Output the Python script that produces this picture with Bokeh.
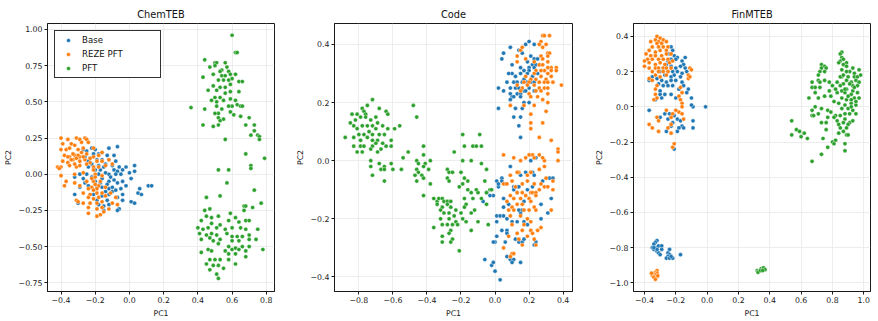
from bokeh.plotting import figure
from bokeh.layouts import row
from bokeh.models import FixedTicker, Range1d
from bokeh.embed import file_html
from bokeh.resources import INLINE

FONT = "DejaVu Sans"
SERIES = ["Base", "REZE PFT", "PFT"]
COLORS = ["#1f77b4", "#ff7f0e", "#2ca02c"]

# ---------------- ChemTEB: (PC1, PC2) per embedding ----------------
chem_base = [
    (-0.07, 0.19), (-0.12, 0.18), (-0.22, 0.18), (-0.20, 0.17), (-0.25, 0.16), (-0.27, 0.17),
    (-0.16, 0.15), (-0.18, 0.14), (-0.21, 0.14), (-0.13, 0.13), (-0.09, 0.13),
    (-0.26, 0.12), (-0.23, 0.11), (-0.19, 0.10), (-0.16, 0.10), (-0.12, 0.10), (-0.08, 0.09),
    (-0.14, 0.07), (-0.10, 0.06), (-0.06, 0.05), (-0.02, 0.05), (0.03, 0.06),
    (-0.24, 0.05), (-0.20, 0.03), (-0.17, 0.03), (-0.09, 0.03), (-0.07, 0.02), (-0.04, 0.03),
    (-0.29, 0.00), (-0.25, 0.00), (-0.18, 0.00), (-0.12, 0.00), (-0.08, 0.00), (-0.05, 0.00),
    (0.00, 0.01), (0.03, 0.02),
    (-0.32, -0.02), (-0.27, -0.03), (-0.22, -0.02), (-0.16, -0.03), (-0.12, -0.05), (-0.07, -0.06),
    (-0.04, -0.05), (0.01, -0.03),
    (-0.29, -0.09), (-0.24, -0.08), (-0.19, -0.09), (-0.16, -0.09), (-0.12, -0.10), (-0.10, -0.09),
    (-0.05, -0.10), (-0.02, -0.08), (0.06, -0.10), (0.11, -0.08), (0.13, -0.08),
    (-0.32, -0.14), (-0.21, -0.14), (-0.16, -0.15), (-0.12, -0.14), (-0.07, -0.16), (-0.04, -0.14),
    (0.05, -0.13), (0.07, -0.14),
    (-0.30, -0.20), (-0.19, -0.18), (-0.13, -0.18), (-0.04, -0.18), (0.01, -0.19), (0.03, -0.20),
    (-0.18, -0.21), (-0.15, -0.22), (-0.12, -0.21), (-0.06, -0.24), (-0.07, -0.25), (-0.15, -0.25),
    (-0.24, 0.09), (-0.22, 0.07), (-0.18, 0.06), (-0.15, 0.05), (-0.14, 0.01), (-0.11, -0.02),
    (-0.09, -0.04), (-0.13, -0.07), (-0.17, -0.06), (-0.20, -0.05), (-0.26, -0.06), (-0.10, -0.12),
    (-0.08, -0.11), (-0.14, -0.12),
]
chem_reze = [
    (-0.40, 0.25), (-0.36, 0.24), (-0.31, 0.25), (-0.29, 0.24), (-0.26, 0.25), (-0.25, 0.24),
    (-0.39, 0.21), (-0.34, 0.21), (-0.32, 0.20), (-0.28, 0.22), (-0.24, 0.22),
    (-0.40, 0.17), (-0.37, 0.17), (-0.35, 0.18), (-0.30, 0.17), (-0.27, 0.18), (-0.21, 0.18),
    (-0.38, 0.13), (-0.35, 0.12), (-0.32, 0.13), (-0.29, 0.12), (-0.25, 0.14), (-0.21, 0.12),
    (-0.18, 0.13), (-0.16, 0.15),
    (-0.39, 0.09), (-0.36, 0.08), (-0.33, 0.10), (-0.29, 0.09), (-0.26, 0.10), (-0.23, 0.08),
    (-0.19, 0.09), (-0.16, 0.09), (-0.12, 0.10), (-0.10, 0.07),
    (-0.42, 0.05), (-0.40, 0.05), (-0.35, 0.06), (-0.31, 0.05), (-0.21, 0.05), (-0.18, 0.05),
    (-0.14, 0.06), (-0.41, 0.04),
    (-0.40, -0.01), (-0.32, 0.00), (-0.27, 0.01), (-0.20, 0.00), (-0.16, -0.01),
    (-0.37, -0.05), (-0.32, -0.06), (-0.25, -0.05), (-0.21, -0.05), (-0.17, -0.05),
    (-0.38, -0.08), (-0.29, -0.08), (-0.22, -0.09), (-0.18, -0.08), (-0.14, -0.09),
    (-0.27, -0.13), (-0.23, -0.14), (-0.19, -0.13), (-0.16, -0.13), (-0.11, -0.13),
    (-0.24, -0.16), (-0.21, -0.17), (-0.18, -0.16), (-0.14, -0.15), (-0.08, -0.16),
    (-0.31, -0.18), (-0.27, -0.20), (-0.23, -0.20), (-0.19, -0.20), (-0.16, -0.19), (-0.10, -0.20),
    (-0.24, -0.23), (-0.19, -0.24), (-0.16, -0.23), (-0.12, -0.24), (-0.07, -0.21),
    (-0.24, -0.27), (-0.19, -0.29), (-0.17, -0.28), (-0.15, -0.26), (-0.30, -0.19),
    (-0.33, 0.14), (-0.30, 0.13), (-0.28, 0.15), (-0.36, 0.12), (-0.34, 0.10), (-0.31, 0.11),
    (-0.27, 0.12), (-0.25, 0.07), (-0.23, 0.11), (-0.32, 0.07), (-0.29, 0.06),
    (-0.21, 0.03), (-0.20, -0.02), (-0.22, -0.03), (-0.19, -0.10), (-0.21, -0.11), (-0.24, -0.10),
    (-0.20, -0.07),
]
chem_pft = [
    (0.60, 0.96), (0.62, 0.84), (0.63, 0.84), (0.44, 0.79), (0.50, 0.77), (0.51, 0.77), (0.56, 0.77),
    (0.47, 0.74), (0.50, 0.75), (0.57, 0.74), (0.54, 0.72), (0.58, 0.71), (0.53, 0.71),
    (0.43, 0.67), (0.49, 0.69), (0.54, 0.68), (0.56, 0.68), (0.59, 0.69), (0.62, 0.69),
    (0.60, 0.66), (0.52, 0.65), (0.55, 0.65), (0.58, 0.65), (0.64, 0.64), (0.66, 0.64),
    (0.59, 0.62), (0.49, 0.61), (0.53, 0.60), (0.56, 0.60), (0.46, 0.58), (0.51, 0.58),
    (0.59, 0.57), (0.56, 0.56), (0.64, 0.57), (0.50, 0.53), (0.53, 0.53), (0.48, 0.51),
    (0.51, 0.50), (0.55, 0.51), (0.59, 0.52), (0.62, 0.51), (0.60, 0.47), (0.58, 0.47),
    (0.63, 0.48), (0.65, 0.47), (0.66, 0.47), (0.36, 0.46), (0.51, 0.47), (0.44, 0.45),
    (0.54, 0.45), (0.52, 0.42), (0.50, 0.42), (0.59, 0.43), (0.61, 0.41), (0.52, 0.39),
    (0.55, 0.38), (0.65, 0.40), (0.70, 0.39), (0.53, 0.37), (0.43, 0.34), (0.49, 0.33),
    (0.52, 0.34), (0.68, 0.34), (0.73, 0.34), (0.73, 0.30), (0.71, 0.27), (0.75, 0.27),
    (0.76, 0.26), (0.76, 0.24), (0.56, 0.24), (0.68, 0.14), (0.79, 0.11), (0.71, 0.06),
    (0.71, 0.04), (0.52, 0.03), (0.58, 0.03), (0.57, -0.06), (0.73, -0.11), (0.45, -0.16),
    (0.53, -0.15), (0.77, -0.20),
    (0.67, -0.22), (0.68, -0.22), (0.72, -0.23), (0.44, -0.25), (0.47, -0.24), (0.59, -0.27),
    (0.67, -0.25), (0.42, -0.32), (0.45, -0.29), (0.48, -0.30), (0.48, -0.34), (0.52, -0.29),
    (0.58, -0.32), (0.62, -0.30), (0.64, -0.33), (0.68, -0.32), (0.70, -0.32), (0.40, -0.37),
    (0.43, -0.38), (0.46, -0.37), (0.51, -0.37), (0.53, -0.35), (0.56, -0.38), (0.60, -0.37),
    (0.65, -0.37), (0.68, -0.38), (0.75, -0.38), (0.41, -0.41), (0.45, -0.42), (0.48, -0.41),
    (0.51, -0.42), (0.57, -0.41), (0.60, -0.43), (0.63, -0.43), (0.66, -0.43), (0.70, -0.42),
    (0.42, -0.45), (0.47, -0.44), (0.49, -0.46), (0.53, -0.45), (0.60, -0.46), (0.64, -0.46),
    (0.70, -0.45), (0.74, -0.45), (0.52, -0.48), (0.58, -0.50), (0.60, -0.52), (0.62, -0.51),
    (0.64, -0.52), (0.66, -0.50), (0.68, -0.53), (0.70, -0.50), (0.78, -0.52), (0.46, -0.52),
    (0.48, -0.53), (0.42, -0.54), (0.56, -0.53), (0.58, -0.55), (0.62, -0.55), (0.68, -0.57),
    (0.47, -0.59), (0.50, -0.59), (0.53, -0.59), (0.58, -0.59), (0.45, -0.62), (0.49, -0.63),
    (0.52, -0.63), (0.62, -0.62), (0.47, -0.66), (0.55, -0.65), (0.51, -0.69), (0.52, -0.72),
]

# ---------------- Code ----------------
code_base = [
    (0.18, 0.40), (0.20, 0.41), (0.05, 0.37), (0.04, 0.35), (0.09, 0.39), (0.14, 0.38), (0.16, 0.37),
    (0.23, 0.40), (0.21, 0.36), (0.23, 0.35), (0.19, 0.34), (0.25, 0.35),
    (0.20, 0.32), (0.22, 0.33), (0.24, 0.33), (0.26, 0.33), (0.17, 0.31), (0.20, 0.31), (0.23, 0.32),
    (0.15, 0.32), (0.10, 0.33), (0.10, 0.30),
    (0.08, 0.30), (0.12, 0.29), (0.15, 0.30), (0.19, 0.30), (0.22, 0.29), (0.25, 0.30), (0.17, 0.28),
    (0.07, 0.27), (0.11, 0.27), (0.13, 0.27), (0.16, 0.27), (0.19, 0.27), (0.21, 0.27), (0.23, 0.27),
    (0.02, 0.25), (0.05, 0.24), (0.09, 0.25), (0.12, 0.25), (0.14, 0.25), (0.17, 0.24), (0.20, 0.25),
    (0.23, 0.24), (0.09, 0.23), (0.10, 0.22), (0.13, 0.23), (0.15, 0.23), (0.18, 0.24), (0.09, 0.21),
    (0.11, 0.22), (0.15, 0.22), (0.17, 0.20), (0.20, 0.20), (0.02, 0.18), (0.12, 0.18), (0.16, 0.18),
    (0.11, 0.15), (0.15, 0.15), (0.14, 0.12), (0.15, 0.08),
    (0.21, 0.00), (0.24, 0.01), (0.22, -0.04), (0.23, -0.05), (0.09, -0.02), (0.18, -0.04),
    (0.15, -0.05), (0.32, -0.06), (0.34, -0.06), (0.28, -0.07), (0.01, -0.07), (0.04, -0.06),
    (0.06, -0.08), (0.02, -0.09), (-0.05, -0.11), (-0.01, -0.12),
    (0.11, -0.09), (0.12, -0.09), (0.13, -0.09), (0.14, -0.09), (0.11, -0.10), (0.13, -0.11),
    (0.19, -0.10), (0.22, -0.09),
    (-0.07, -0.14), (0.05, -0.13), (0.05, -0.16), (0.08, -0.15), (0.17, -0.14), (0.27, -0.15),
    (0.33, -0.13), (0.31, -0.18),
    (0.01, -0.19), (0.03, -0.19), (0.05, -0.19), (0.01, -0.21), (0.07, -0.20), (0.10, -0.21),
    (0.13, -0.21), (0.15, -0.18), (0.14, -0.17), (0.16, -0.17), (0.27, -0.20), (0.17, -0.21),
    (0.19, -0.22),
    (0.04, -0.24), (0.07, -0.24), (0.07, -0.25), (0.01, -0.26), (0.00, -0.28), (0.06, -0.28),
    (0.12, -0.27), (0.14, -0.28), (0.16, -0.28), (0.17, -0.27), (0.24, -0.28), (0.23, -0.29),
    (-0.01, -0.28),
    (0.07, -0.33), (0.09, -0.34), (0.11, -0.34), (0.10, -0.35), (0.15, -0.35), (-0.06, -0.34),
    (-0.02, -0.36), (-0.01, -0.35), (0.00, -0.38), (0.03, -0.41),
    (0.02, -0.08), (0.04, -0.07), (-0.03, -0.12),
]
code_reze = [
    (0.28, 0.43), (0.29, 0.43), (0.32, 0.43), (0.27, 0.41), (0.30, 0.40),
    (0.15, 0.38), (0.16, 0.39), (0.26, 0.40), (0.28, 0.39),
    (0.13, 0.36), (0.31, 0.37), (0.32, 0.37), (0.31, 0.36), (0.27, 0.36),
    (0.13, 0.34), (0.18, 0.35), (0.28, 0.35), (0.31, 0.34), (0.26, 0.33), (0.28, 0.33), (0.23, 0.34),
    (0.33, 0.32), (0.36, 0.32), (0.31, 0.32), (0.29, 0.31), (0.27, 0.31), (0.24, 0.31),
    (0.36, 0.31), (0.33, 0.31), (0.31, 0.30), (0.27, 0.29), (0.23, 0.30), (0.21, 0.28), (0.18, 0.29),
    (0.30, 0.28), (0.33, 0.29),
    (0.20, 0.27), (0.24, 0.28), (0.26, 0.27), (0.29, 0.27), (0.31, 0.27), (0.39, 0.26), (0.34, 0.27),
    (0.17, 0.27),
    (0.19, 0.26), (0.23, 0.26), (0.26, 0.25), (0.29, 0.25), (0.31, 0.25), (0.24, 0.24), (0.27, 0.24),
    (0.31, 0.23), (0.16, 0.25), (0.13, 0.26),
    (0.15, 0.24), (0.20, 0.23), (0.21, 0.22), (0.25, 0.22), (0.28, 0.21), (0.31, 0.20), (0.09, 0.19),
    (0.17, 0.19), (0.23, 0.19), (0.21, 0.16), (0.30, 0.17), (0.21, 0.13), (0.28, 0.13), (0.21, 0.11),
    (0.26, 0.08), (0.33, 0.07),
    (0.37, 0.04), (0.37, 0.03), (0.22, 0.02), (0.23, 0.01), (0.26, 0.02), (0.29, 0.00), (0.28, 0.01),
    (0.37, 0.00), (0.05, 0.02), (0.11, 0.01), (0.15, 0.00), (0.18, 0.01), (0.20, 0.02),
    (0.29, -0.02), (0.26, -0.03), (0.30, -0.06), (0.21, -0.04), (0.19, -0.05), (0.14, -0.04),
    (0.13, -0.04), (0.10, -0.07), (0.09, -0.05), (0.34, -0.07),
    (0.05, -0.08), (0.07, -0.08), (0.12, -0.09), (0.16, -0.08), (0.19, -0.07), (0.23, -0.08),
    (0.27, -0.08), (0.29, -0.09), (0.31, -0.09), (0.34, -0.10), (0.26, -0.10),
    (0.09, -0.12), (0.13, -0.11), (0.16, -0.11), (0.18, -0.12), (0.21, -0.11), (0.22, -0.11),
    (0.24, -0.11), (0.11, -0.13), (0.15, -0.13), (0.20, -0.13), (0.24, -0.12),
    (0.07, -0.14), (0.10, -0.16), (0.13, -0.15), (0.16, -0.15), (0.21, -0.14), (0.23, -0.16),
    (0.08, -0.17), (0.11, -0.17), (0.17, -0.17), (0.20, -0.17), (0.24, -0.17), (0.33, -0.17),
    (0.09, -0.19), (0.15, -0.19), (0.21, -0.21), (0.19, -0.20), (0.10, -0.22), (0.17, -0.22),
    (0.27, -0.23), (0.25, -0.24), (0.21, -0.24), (0.13, -0.25), (0.16, -0.24),
    (0.08, -0.26), (0.14, -0.27), (0.16, -0.29), (0.19, -0.26), (0.23, -0.27), (0.05, -0.30),
    (0.10, -0.32), (0.09, -0.33), (0.11, -0.32), (0.22, -0.25), (0.24, -0.29),
]
code_pft = [
    (-0.72, 0.21), (-0.75, 0.19), (-0.78, 0.18), (-0.84, 0.16), (-0.81, 0.16), (-0.77, 0.17),
    (-0.76, 0.16), (-0.68, 0.18), (-0.64, 0.17), (-0.63, 0.16),
    (-0.85, 0.13), (-0.82, 0.14), (-0.79, 0.15), (-0.76, 0.15), (-0.73, 0.14), (-0.70, 0.15),
    (-0.69, 0.13), (-0.83, 0.12), (-0.81, 0.11), (-0.78, 0.12), (-0.75, 0.12), (-0.72, 0.12),
    (-0.70, 0.11), (-0.66, 0.12), (-0.63, 0.11), (-0.59, 0.11), (-0.56, 0.12),
    (-0.80, 0.09), (-0.77, 0.09), (-0.74, 0.10), (-0.72, 0.09), (-0.68, 0.09), (-0.65, 0.09),
    (-0.88, 0.08), (-0.83, 0.08), (-0.79, 0.07), (-0.75, 0.08), (-0.72, 0.07), (-0.69, 0.07),
    (-0.61, 0.07), (-0.83, 0.05), (-0.79, 0.05), (-0.77, 0.05), (-0.72, 0.05), (-0.70, 0.06),
    (-0.66, 0.06), (-0.64, 0.05), (-0.61, 0.05), (-0.81, 0.03), (-0.78, 0.03), (-0.73, 0.04),
    (-0.69, 0.03), (-0.67, 0.04),
    (-0.73, 0.00), (-0.68, -0.01), (-0.73, -0.02), (-0.65, -0.02), (-0.67, -0.03), (-0.61, -0.01),
    (-0.60, -0.03), (-0.72, -0.05), (-0.65, -0.03), (-0.65, -0.07),
    (-0.48, 0.19), (-0.46, 0.15), (-0.51, 0.03), (-0.54, 0.01), (-0.55, -0.03),
    (-0.46, 0.00), (-0.45, -0.01), (-0.46, -0.03), (-0.42, 0.02), (-0.42, 0.05), (-0.41, -0.01),
    (-0.42, -0.02), (-0.38, 0.00), (-0.39, -0.03),
    (-0.47, -0.05), (-0.45, -0.04), (-0.43, -0.05), (-0.42, -0.06), (-0.46, -0.07), (-0.38, -0.08),
    (-0.42, -0.12),
    (-0.28, -0.03), (-0.27, -0.04), (-0.25, -0.04), (-0.28, -0.06), (-0.27, -0.07), (-0.36, -0.13),
    (-0.34, -0.14), (-0.33, -0.13), (-0.31, -0.13), (-0.30, -0.14), (-0.28, -0.14),
    (-0.34, -0.15), (-0.31, -0.16), (-0.28, -0.15), (-0.26, -0.14), (-0.32, -0.17), (-0.30, -0.18),
    (-0.27, -0.18), (-0.32, -0.20), (-0.27, -0.20), (-0.24, -0.19), (-0.26, -0.16), (-0.23, -0.17),
    (-0.36, -0.23), (-0.31, -0.22), (-0.28, -0.22), (-0.25, -0.22), (-0.23, -0.21), (-0.22, -0.22),
    (-0.26, -0.24), (-0.31, -0.26), (-0.31, -0.28), (-0.27, -0.25), (-0.25, -0.27), (-0.26, -0.28),
    (-0.21, -0.31),
    (-0.19, 0.09), (-0.09, 0.09), (-0.18, 0.05), (-0.13, 0.05), (-0.11, 0.05), (-0.08, 0.05),
    (-0.24, 0.03), (-0.19, 0.00), (-0.14, 0.00), (-0.08, -0.01), (-0.05, -0.03),
    (-0.20, -0.04), (-0.18, -0.06), (-0.19, -0.08), (-0.16, -0.07), (-0.21, -0.09), (-0.16, -0.10),
    (-0.14, -0.11), (-0.11, -0.10), (-0.10, -0.11), (-0.06, -0.07), (-0.05, -0.11), (-0.03, -0.10),
    (-0.02, -0.10), (-0.08, -0.13), (-0.05, -0.15), (-0.13, -0.13), (-0.18, -0.13), (-0.17, -0.15),
    (-0.18, -0.16), (-0.12, -0.17), (-0.20, -0.18), (-0.14, -0.18), (-0.10, -0.21), (-0.14, -0.24),
    (-0.17, -0.21), (-0.19, -0.20), (-0.04, -0.22),
]

# ---------------- FinMTEB ----------------
fin_base = [
    (-0.23, 0.34), (-0.22, 0.32), (-0.24, 0.30), (-0.21, 0.29), (-0.19, 0.28), (-0.14, 0.28),
    (-0.20, 0.27), (-0.16, 0.26), (-0.15, 0.24), (-0.23, 0.27), (-0.25, 0.26), (-0.17, 0.23),
    (-0.14, 0.22), (-0.20, 0.22), (-0.23, 0.23), (-0.26, 0.24), (-0.28, 0.22), (-0.30, 0.20),
    (-0.25, 0.20), (-0.22, 0.20), (-0.19, 0.20), (-0.16, 0.19), (-0.13, 0.20), (-0.27, 0.18),
    (-0.23, 0.17), (-0.21, 0.18), (-0.17, 0.17), (-0.29, 0.15), (-0.26, 0.14), (-0.23, 0.15),
    (-0.20, 0.15), (-0.16, 0.14), (-0.37, 0.15), (-0.35, 0.17), (-0.32, 0.16), (-0.31, 0.13),
    (-0.28, 0.12), (-0.25, 0.12), (-0.22, 0.12), (-0.15, 0.12), (-0.12, 0.10), (-0.30, 0.09),
    (-0.27, 0.07), (-0.23, 0.07), (-0.20, 0.05), (-0.18, 0.10), (-0.13, 0.08), (-0.10, 0.05),
    (-0.09, 0.00), (-0.10, 0.01), (-0.37, -0.02), (-0.30, -0.06), (-0.27, -0.04), (-0.24, -0.04),
    (-0.21, -0.05), (-0.25, -0.07), (-0.19, -0.07), (-0.22, -0.09), (-0.17, -0.08), (-0.16, -0.11),
    (-0.15, -0.12), (-0.18, -0.12), (-0.19, -0.14), (-0.23, -0.11), (-0.26, -0.14), (-0.09, -0.08),
    (-0.09, -0.12), (-0.01, 0.00), (-0.21, -0.24), (-0.30, 0.07), (-0.29, 0.05), (-0.33, 0.04),
    (-0.32, -0.76), (-0.33, -0.77), (-0.34, -0.78), (-0.35, -0.80), (-0.33, -0.80), (-0.32, -0.80),
    (-0.31, -0.79), (-0.29, -0.79), (-0.29, -0.81), (-0.34, -0.81), (-0.32, -0.82), (-0.31, -0.83),
    (-0.30, -0.84), (-0.32, -0.81), (-0.24, -0.81), (-0.25, -0.83), (-0.24, -0.84), (-0.25, -0.85),
    (-0.26, -0.86), (-0.24, -0.86), (-0.22, -0.86), (-0.17, -0.84), (-0.23, -0.85), (-0.34, -0.80),
]
fin_reze = [
    (-0.32, 0.40), (-0.30, 0.39), (-0.33, 0.38), (-0.31, 0.37), (-0.28, 0.38), (-0.36, 0.37),
    (-0.32, 0.36), (-0.29, 0.36), (-0.26, 0.37), (-0.35, 0.34), (-0.31, 0.34), (-0.28, 0.34),
    (-0.25, 0.34), (-0.37, 0.32), (-0.33, 0.31), (-0.30, 0.32), (-0.26, 0.32), (-0.39, 0.30),
    (-0.36, 0.29), (-0.33, 0.29), (-0.29, 0.29), (-0.26, 0.30), (-0.23, 0.30), (-0.38, 0.27),
    (-0.35, 0.27), (-0.31, 0.27), (-0.28, 0.27), (-0.25, 0.27), (-0.40, 0.26), (-0.37, 0.25),
    (-0.33, 0.24), (-0.30, 0.25), (-0.27, 0.24), (-0.24, 0.25), (-0.22, 0.26), (-0.40, 0.23),
    (-0.37, 0.22), (-0.33, 0.22), (-0.31, 0.22), (-0.28, 0.22), (-0.26, 0.22), (-0.23, 0.22),
    (-0.35, 0.20), (-0.31, 0.20), (-0.28, 0.20), (-0.25, 0.20), (-0.33, 0.18), (-0.30, 0.17),
    (-0.26, 0.18), (-0.11, 0.22), (-0.10, 0.21), (-0.12, 0.18), (-0.12, 0.16), (-0.11, 0.17),
    (-0.37, 0.16), (-0.35, 0.15), (-0.32, 0.12), (-0.33, 0.10), (-0.33, 0.07), (-0.34, 0.04),
    (-0.32, 0.05), (-0.17, 0.11), (-0.16, 0.08), (-0.18, 0.06), (-0.17, 0.04), (-0.16, 0.02),
    (-0.16, 0.00), (-0.18, -0.03), (-0.16, -0.04), (-0.20, -0.02), (-0.22, -0.04), (-0.26, -0.02),
    (-0.23, -0.06), (-0.15, -0.07), (-0.23, -0.10), (-0.25, -0.12), (-0.32, -0.06), (-0.31, -0.08),
    (-0.37, -0.10), (-0.35, -0.12), (-0.31, -0.14), (-0.23, -0.15), (-0.21, -0.21), (-0.22, -0.23),
    (-0.32, -0.93), (-0.33, -0.94), (-0.32, -0.945), (-0.34, -0.95), (-0.33, -0.955), (-0.35, -0.96),
    (-0.34, -0.965), (-0.32, -0.965), (-0.33, -0.972), (-0.34, -0.968), (-0.33, -0.98),
    (-0.315, -0.96), (-0.355, -0.945),
]
fin_pft = [
    (0.86, 0.31), (0.85, 0.30), (0.86, 0.28), (0.85, 0.26), (0.87, 0.27), (0.89, 0.25), (0.84, 0.25),
    (0.87, 0.24), (0.89, 0.23), (0.73, 0.24), (0.75, 0.23), (0.73, 0.22), (0.76, 0.22), (0.72, 0.20),
    (0.75, 0.20), (0.71, 0.18), (0.93, 0.22), (0.97, 0.21), (0.91, 0.20), (0.94, 0.19), (0.90, 0.17),
    (0.94, 0.17), (0.96, 0.17), (0.98, 0.18), (0.86, 0.17), (0.85, 0.17),
    (0.67, 0.14), (0.71, 0.15), (0.72, 0.14), (0.75, 0.15), (0.67, 0.11), (0.69, 0.11), (0.72, 0.11),
    (0.78, 0.14), (0.89, 0.15), (0.92, 0.14), (0.95, 0.15), (0.97, 0.14), (0.87, 0.13), (0.93, 0.12),
    (0.96, 0.12), (0.78, 0.09), (0.83, 0.08), (0.86, 0.09), (0.89, 0.10), (0.93, 0.09), (0.96, 0.08),
    (0.88, 0.08), (0.92, 0.07), (0.69, 0.08), (0.75, 0.06), (0.79, 0.06), (0.65, 0.05), (0.71, 0.05),
    (0.86, 0.05), (0.89, 0.04), (0.94, 0.05), (0.97, 0.05), (0.81, 0.03), (0.84, 0.02), (0.88, 0.01),
    (0.92, 0.02), (0.95, 0.01), (0.69, 0.00), (0.67, -0.02), (0.73, -0.01), (0.86, -0.01),
    (0.90, -0.01), (0.93, -0.02), (0.67, -0.05), (0.68, -0.05), (0.71, -0.04), (0.77, -0.06),
    (0.82, -0.05), (0.85, -0.05), (0.88, -0.04), (0.95, -0.04), (0.83, -0.08), (0.88, -0.07),
    (0.76, -0.09), (0.73, -0.09), (0.84, -0.10), (0.91, -0.09), (0.90, -0.10), (0.93, -0.08),
    (0.54, -0.08), (0.57, -0.13), (0.59, -0.14), (0.62, -0.15), (0.54, -0.16), (0.60, -0.17),
    (0.64, -0.18), (0.76, -0.13), (0.84, -0.15), (0.87, -0.14), (0.89, -0.16), (0.90, -0.16),
    (0.74, -0.18), (0.80, -0.20), (0.82, -0.19), (0.81, -0.21), (0.88, -0.21), (0.77, -0.23),
    (0.88, -0.25), (0.73, -0.27), (0.67, -0.31),
    (0.90, 0.06), (0.92, 0.04), (0.88, 0.10), (0.94, 0.11), (0.91, 0.13), (0.87, 0.18), (0.89, 0.20),
    (0.86, 0.21), (0.95, 0.03), (0.85, 0.12), (0.83, 0.14), (0.82, 0.10), (0.80, 0.12), (0.77, -0.02),
    (0.79, -0.03), (0.81, -0.06), (0.85, -0.12), (0.87, -0.09), (0.89, -0.12), (0.91, -0.04),
    (0.92, 0.00),
    (0.32, -0.93), (0.33, -0.935), (0.345, -0.92), (0.36, -0.915), (0.37, -0.925), (0.325, -0.94),
    (0.34, -0.93), (0.355, -0.93),
]

# ---------------- axis ticks and their labels ----------------
chem_xticks = [-0.4, -0.2, 0.0, 0.2, 0.4, 0.6, 0.8]
chem_xlabels = ["\u22120.4", "\u22120.2", "0.0", "0.2", "0.4", "0.6", "0.8"]
chem_yticks = [-0.75, -0.5, -0.25, 0.0, 0.25, 0.5, 0.75, 1.0]
chem_ylabels = ["\u22120.75", "\u22120.50", "\u22120.25", "0.00", "0.25", "0.50", "0.75", "1.00"]
code_xticks = [-0.8, -0.6, -0.4, -0.2, 0.0, 0.2, 0.4]
code_xlabels = ["\u22120.8", "\u22120.6", "\u22120.4", "\u22120.2", "0.0", "0.2", "0.4"]
code_yticks = [-0.4, -0.2, 0.0, 0.2, 0.4]
code_ylabels = ["\u22120.4", "\u22120.2", "0.0", "0.2", "0.4"]
fin_xticks = [-0.4, -0.2, 0.0, 0.2, 0.4, 0.6, 0.8, 1.0]
fin_xlabels = ["\u22120.4", "\u22120.2", "0.0", "0.2", "0.4", "0.6", "0.8", "1.0"]
fin_yticks = [-1.0, -0.8, -0.6, -0.4, -0.2, 0.0, 0.2, 0.4]
fin_ylabels = ["\u22121.0", "\u22120.8", "\u22120.6", "\u22120.4", "\u22120.2", "0.0", "0.2", "0.4"]


def make_panel(name, width, border_left, border_right, border_bottom,
               x_range, y_range, xticks, xlabels, yticks, ylabels, groups, with_legend):
    p = figure(width=width, height=321,
               x_range=Range1d(*x_range), y_range=Range1d(*y_range),
               output_backend="svg", toolbar_location=None, title=name,
               min_border_left=border_left, min_border_right=border_right,
               min_border_top=23, min_border_bottom=border_bottom)
    p.title.align = "center"
    p.title.text_font = FONT
    p.title.text_font_size = "9.8px"
    p.title.text_font_style = "normal"
    p.title.text_color = "#111111"
    p.title.standoff = 7

    p.background_fill_color = "white"
    p.border_fill_color = "white"
    p.outline_line_color = "#1a1a1a"
    p.outline_line_width = 1
    p.outline_line_alpha = 1

    p.xaxis.ticker = FixedTicker(ticks=xticks)
    p.yaxis.ticker = FixedTicker(ticks=yticks)
    p.xaxis.major_label_overrides = dict(zip(xticks, xlabels))
    p.yaxis.major_label_overrides = dict(zip(yticks, ylabels))
    p.xaxis.axis_label = "PC1"
    p.yaxis.axis_label = "PC2"
    for ax in (p.xaxis, p.yaxis):
        ax.axis_line_color = "#1a1a1a"
        ax.major_tick_line_color = "#1a1a1a"
        ax.major_tick_in = 0
        ax.major_tick_out = 3
        ax.minor_tick_line_color = None
        ax.major_label_text_font = FONT
        ax.major_label_text_font_size = "7.8px"
        ax.major_label_text_color = "#222222"
        ax.major_label_standoff = 2
        ax.axis_label_text_font = FONT
        ax.axis_label_text_font_size = "7.8px"
        ax.axis_label_text_font_style = "normal"
        ax.axis_label_text_color = "#222222"
        ax.axis_label_standoff = 3
    p.yaxis.major_label_orientation = "horizontal"

    p.xgrid.grid_line_color = "#e8e8e8"
    p.ygrid.grid_line_color = "#e8e8e8"
    p.xgrid.grid_line_width = 0.8
    p.ygrid.grid_line_width = 0.8

    for label, color, pts in zip(SERIES, COLORS, groups):
        xs = [pt[0] for pt in pts]
        ys = [pt[1] for pt in pts]
        kw = dict(legend_label=label) if with_legend else {}
        p.scatter(xs, ys, size=4.2, fill_color=color, line_color="white",
                  line_width=0.4, **kw)

    if with_legend:
        lg = p.legend[0]
        lg.location = (7, 213)
        lg.border_line_color = "#333333"
        lg.border_line_width = 1
        lg.border_line_alpha = 1
        lg.background_fill_alpha = 1
        lg.padding = 4
        lg.spacing = 4
        lg.margin = 0
        lg.glyph_width = 18
        lg.glyph_height = 10
        lg.label_height = 10
        lg.label_width = 74
        lg.label_standoff = 5
        lg.label_text_font = FONT
        lg.label_text_font_size = "8.6px"
        lg.label_text_color = "#111111"
    return p


p1 = make_panel("ChemTEB", 290, 44, 16, 30, (-0.479, 0.848), (-0.81, 1.041),
                chem_xticks, chem_xlabels, chem_yticks, chem_ylabels,
                [chem_base, chem_reze, chem_pft], True)
p2 = make_panel("Code", 290, 44, 8, 28, (-0.943, 0.455), (-0.45, 0.472),
                code_xticks, code_xlabels, code_yticks, code_ylabels,
                [code_base, code_reze, code_pft], False)
p3 = make_panel("FinMTEB", 298, 53, 8, 28, (-0.47, 1.043), (-1.049, 0.473),
                fin_xticks, fin_xlabels, fin_yticks, fin_ylabels,
                [fin_base, fin_reze, fin_pft], False)

layout = row(p1, p2, p3)
open("out.html", "w").write(file_html(layout, INLINE))
